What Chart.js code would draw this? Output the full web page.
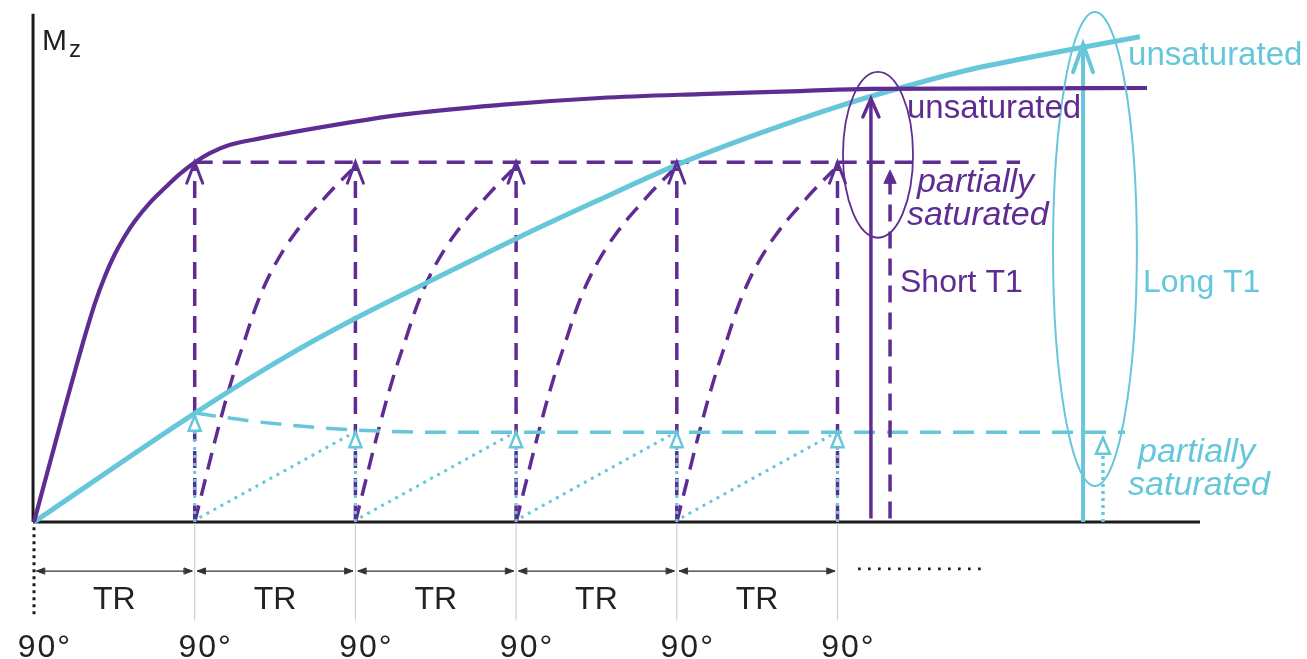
<!DOCTYPE html>
<html><head><meta charset="utf-8">
<script src="https://cdn.jsdelivr.net/npm/chart.js@4/dist/chart.umd.min.js"></script>
<style>html,body{margin:0;padding:0;background:#fff;overflow:hidden}canvas{display:block}</style>
</head><body>
<canvas id="c" width="1307" height="659"></canvas>
<script>
// ---------- data (time in TR units, Mz relative to full magnetisation) ----------
const pulseTimes = [0, 1, 2, 3, 4, 5];
const pulseLabels = ['90°', '90°', '90°', '90°', '90°', '90°'];
const intervalLabels = ['TR', 'TR', 'TR', 'TR', 'TR'];

const shortT1Time = [0, 0.068, 0.131, 0.193, 0.255, 0.317, 0.380, 0.442, 0.504, 0.566, 0.629, 0.722, 0.815, 0.908, 1.002, 1.095, 1.220, 1.406, 1.562, 2.278, 2.900, 3.522, 4.144, 4.767, 5.202, 6.926];
const shortT1Mz   = [0, 0.094, 0.180, 0.265, 0.348, 0.429, 0.505, 0.567, 0.618, 0.659, 0.694, 0.736, 0.770, 0.802, 0.829, 0.850, 0.869, 0.884, 0.895, 0.938, 0.961, 0.977, 0.986, 0.993, 0.998, 1.000];

const longT1Time = [0, 1.002, 1.562, 2.004, 2.464, 3.006, 3.503, 4.001, 4.518, 5.016, 5.389, 5.806, 6.198, 6.528, 6.882];
const longT1Mz   = [0, 0.251, 0.380, 0.470, 0.555, 0.654, 0.740, 0.823, 0.896, 0.959, 1.000, 1.041, 1.071, 1.094, 1.118];

const shortPartialTime = [1.000, 6.136];
const shortPartialMz   = [0.829, 0.829];

const recoveryTime1 = [1, 1.062, 1.124, 1.187, 1.249, 1.311, 1.373, 1.436, 1.498, 1.560, 1.622, 1.684, 1.747, 1.809, 1.871, 1.933, 1.977];
const recoveryTime2 = [2, 2.062, 2.124, 2.187, 2.249, 2.311, 2.373, 2.436, 2.498, 2.560, 2.622, 2.684, 2.747, 2.809, 2.871, 2.933, 2.977];
const recoveryTime3 = [3, 3.062, 3.124, 3.187, 3.249, 3.311, 3.373, 3.436, 3.498, 3.560, 3.622, 3.684, 3.747, 3.809, 3.871, 3.933, 3.977];
const recoveryTime4 = [4, 4.062, 4.124, 4.187, 4.249, 4.311, 4.373, 4.436, 4.498, 4.560, 4.622, 4.684, 4.747, 4.809, 4.871, 4.933, 4.977];
const recoveryMz    = [0, 0.092, 0.184, 0.272, 0.350, 0.419, 0.488, 0.546, 0.592, 0.631, 0.664, 0.694, 0.721, 0.747, 0.772, 0.795, 0.811];

const longPartialTime = [1.002, 1.344, 1.655, 2.004, 2.464, 6.789];
const longPartialMz   = [0.251, 0.233, 0.221, 0.212, 0.207, 0.207];

const longRegrowthStartTime = [1.03, 2.03, 3.03, 4.03];
const longRegrowthEndTime   = [1.96, 2.96, 3.96, 4.96];
const longRegrowthStartMz   = [0.01, 0.01, 0.01, 0.01];
const longRegrowthEndMz     = [0.200, 0.200, 0.200, 0.200];

const shortPulseTipMz = [0.829, 0.829, 0.829, 0.829, 0.829];   // pulses 1..5
const longPulseTipMz  = [0.245, 0.207, 0.207, 0.207, 0.207];   // pulses 1..5

const shortFinalTime = [5.208, 5.327];   // unsaturated, partially saturated
const shortFinalMz   = [0.975, 0.811];
const longFinalTime  = [6.528, 6.652];
const longFinalMz    = [1.101, 0.194];

// ---------- styles ----------
const PURPLE = '#5f2d92';
const CYAN = '#66c7db';
const INK = '#222222';
const FONT = "'Liberation Sans', Arial, sans-serif";

const xy = (ts, ms) => ts.map((t, i) => ({x: t, y: ms[i]}));

const datasets = [];
function add(data, color, width, dash, extra) {
  datasets.push(Object.assign({
    data, borderColor: color, borderWidth: width, borderDash: dash || [],
    showLine: true, pointRadius: 0, fill: false, tension: 0, clip: false,
    borderCapStyle: 'butt', borderJoinStyle: 'round'
  }, extra || {}));
}

// axes and timing annotations
add(xy([-0.006, -0.006], [0, 1.171]), '#1a1a1a', 3);
add(xy([-0.006, 7.256], [0, 0]), '#1a1a1a', 3);
add(xy([pulseTimes[0], pulseTimes[0]], [-0.012, -0.219]), '#1a1a1a', 3, [3, 4]);
for (let i = 1; i < pulseTimes.length; i++) {
  add(xy([pulseTimes[i], pulseTimes[i]], [-0.004, -0.226]), '#cfcfcf', 1.2);
}
for (let i = 0; i < intervalLabels.length; i++) {
  add(xy([pulseTimes[i] + 0.015, pulseTimes[i + 1] - 0.015], [-0.113, -0.113]), '#333333', 1.3, [],
      {head: {start: 'filled', end: 'filled', len: 8, half: 3, lw: 1}});
}
add(xy([5.128, 5.918], [-0.108, -0.108]), '#1a1a1a', 2.6, [2.6, 7.4]);

// purple dashed recovery curves
[recoveryTime1, recoveryTime2, recoveryTime3, recoveryTime4].forEach(rt => {
  add(xy(rt, recoveryMz), PURPLE, 3.5, [17, 10], {cubicInterpolationMode: 'monotone'});
});
// purple dashed pulse verticals
for (let i = 1; i < pulseTimes.length; i++) {
  add(xy([pulseTimes[i], pulseTimes[i]], [0, shortPulseTipMz[i - 1]]), PURPLE, 3.5, [17, 10],
      {head: {end: 'chevron', len: 21, half: 8, lw: 3}});
}
// purple partial saturation level
add(xy(shortPartialTime, shortPartialMz), PURPLE, 3.5, [18, 10]);

// cyan dotted regrowth lines
for (let i = 0; i < longRegrowthStartTime.length; i++) {
  add(xy([longRegrowthStartTime[i], longRegrowthEndTime[i]], [longRegrowthStartMz[i], longRegrowthEndMz[i]]), CYAN, 3, [3, 5]);
}
// cyan dotted pulse verticals
for (let i = 1; i < pulseTimes.length; i++) {
  add(xy([pulseTimes[i], pulseTimes[i]], [0, longPulseTipMz[i - 1]]), CYAN, 3, [3, 5],
      {head: {end: 'hollow', len: 15, half: 6, lw: 2.5}});
}
// cyan dashed partial level
add(xy(longPartialTime, longPartialMz), CYAN, 3.5, [21, 12], {cubicInterpolationMode: 'monotone'});

// final comparison arrows
add(xy([shortFinalTime[0], shortFinalTime[0]], [0.008, shortFinalMz[0]]), PURPLE, 3.5, [],
    {head: {end: 'chevron', len: 18, half: 8, lw: 3.5}});
add(xy([shortFinalTime[1], shortFinalTime[1]], [0.008, shortFinalMz[1]]), PURPLE, 3.5, [17, 10],
    {head: {end: 'filled', len: 13, half: 6, lw: 1}});
add(xy([longFinalTime[0], longFinalTime[0]], [0, longFinalMz[0]]), CYAN, 4, [],
    {head: {end: 'chevron', len: 28, half: 10, lw: 4}});
add(xy([longFinalTime[1], longFinalTime[1]], [0, longFinalMz[1]]), CYAN, 3.5, [3, 4],
    {head: {end: 'hollow', len: 16, half: 7, lw: 2.5}});

// main relaxation curves
add(xy(longT1Time, longT1Mz), CYAN, 5, [], {cubicInterpolationMode: 'monotone'});
add(xy(shortT1Time, shortT1Mz), PURPLE, 4.2, [], {cubicInterpolationMode: 'monotone'});

datasets.forEach((d, i) => { d.order = -i; });

// ---------- annotations (layout only) ----------
const ellipses = [
  {t: 5.252, m: 0.846, rt: 0.218, rm: 0.191, color: PURPLE, lw: 1.8},
  {t: 6.602, m: 0.629, rt: 0.261, rm: 0.546, color: CYAN, lw: 2}
];
const texts = [
  {text: 'unsaturated', t: 5.432, m: 0.931, color: PURPLE, font: '33px ' + FONT},
  {text: 'partially', t: 5.494, m: 0.760, color: PURPLE, font: 'italic 34px ' + FONT},
  {text: 'saturated', t: 5.432, m: 0.684, color: PURPLE, font: 'italic 34px ' + FONT},
  {text: 'Short T1', t: 5.389, m: 0.530, color: PURPLE, font: '32px ' + FONT},
  {text: 'unsaturated', t: 6.808, m: 1.053, color: CYAN, font: '33px ' + FONT},
  {text: 'Long T1', t: 6.901, m: 0.530, color: CYAN, font: '32px ' + FONT},
  {text: 'partially', t: 6.870, m: 0.138, color: CYAN, font: 'italic 34px ' + FONT},
  {text: 'saturated', t: 6.808, m: 0.062, color: CYAN, font: 'italic 34px ' + FONT},
  {text: 'M', t: 0.05, m: 1.088, color: INK, font: '30px ' + FONT},
  {text: 'z', t: 0.218, m: 1.071, color: INK, font: '24px ' + FONT}
];
intervalLabels.forEach((lab, i) => {
  texts.push({text: lab, t: (pulseTimes[i] + pulseTimes[i + 1]) / 2, m: -0.2005, color: INK, font: '32px ' + FONT, align: 'center'});
});
pulseLabels.forEach((lab, i) => {
  texts.push({text: lab, t: pulseTimes[i] + 0.068, m: -0.311, color: INK, font: '32px ' + FONT, align: 'center', spacing: '2px'});
});

function drawHead(ctx, tx, ty, fx, fy, style, color, h) {
  const ang = Math.atan2(ty - fy, tx - fx);
  const bx = tx - h.len * Math.cos(ang), by = ty - h.len * Math.sin(ang);
  const px = -Math.sin(ang) * h.half, py = Math.cos(ang) * h.half;
  ctx.save();
  ctx.setLineDash([]);
  ctx.strokeStyle = color; ctx.fillStyle = color; ctx.lineWidth = h.lw;
  ctx.lineJoin = 'miter'; ctx.lineCap = 'round';
  ctx.beginPath();
  ctx.moveTo(bx + px, by + py); ctx.lineTo(tx, ty); ctx.lineTo(bx - px, by - py);
  if (style === 'chevron') { ctx.stroke(); }
  else if (style === 'filled') { ctx.closePath(); ctx.fill(); ctx.stroke(); }
  else { ctx.closePath(); ctx.fillStyle = '#ffffff'; ctx.fill(); ctx.stroke(); }
  ctx.restore();
}

const diagramPlugin = {
  id: 'diagram',
  afterDatasetsDraw(chart) {
    const ctx = chart.ctx, xs = chart.scales.x, ys = chart.scales.y;
    chart.data.datasets.forEach((ds, i) => {
      if (!ds.head) return;
      const pts = chart.getDatasetMeta(i).data;
      const n = pts.length;
      if (ds.head.end) drawHead(ctx, pts[n - 1].x, pts[n - 1].y, pts[n - 2].x, pts[n - 2].y, ds.head.end, ds.borderColor, ds.head);
      if (ds.head.start) drawHead(ctx, pts[0].x, pts[0].y, pts[1].x, pts[1].y, ds.head.start, ds.borderColor, ds.head);
    });
    ellipses.forEach(e => {
      const cx = xs.getPixelForValue(e.t), cy = ys.getPixelForValue(e.m);
      const rx = Math.abs(xs.getPixelForValue(e.t + e.rt) - cx);
      const ry = Math.abs(ys.getPixelForValue(e.m + e.rm) - cy);
      ctx.save(); ctx.setLineDash([]); ctx.strokeStyle = e.color; ctx.lineWidth = e.lw;
      ctx.beginPath(); ctx.ellipse(cx, cy, rx, ry, 0, 0, Math.PI * 2); ctx.stroke(); ctx.restore();
    });
    texts.forEach(tx => {
      ctx.save();
      ctx.font = tx.font; ctx.fillStyle = tx.color;
      if (tx.spacing && 'letterSpacing' in ctx) ctx.letterSpacing = tx.spacing;
      ctx.textAlign = tx.align || 'left'; ctx.textBaseline = 'alphabetic';
      ctx.fillText(tx.text, xs.getPixelForValue(tx.t), ys.getPixelForValue(tx.m));
      ctx.restore();
    });
  }
};

new Chart(document.getElementById('c'), {
  type: 'scatter',
  data: {datasets},
  options: {
    responsive: false, animation: false, devicePixelRatio: 1,
    layout: {padding: 0},
    plugins: {legend: {display: false}, tooltip: {enabled: false}},
    events: [],
    scales: {
      x: {type: 'linear', min: -0.2116, max: 7.9216, display: false, bounds: 'data'},
      y: {type: 'linear', min: -0.3157, max: 1.2028, display: false, bounds: 'data'}
    }
  },
  plugins: [diagramPlugin]
});
</script>
</body></html>
